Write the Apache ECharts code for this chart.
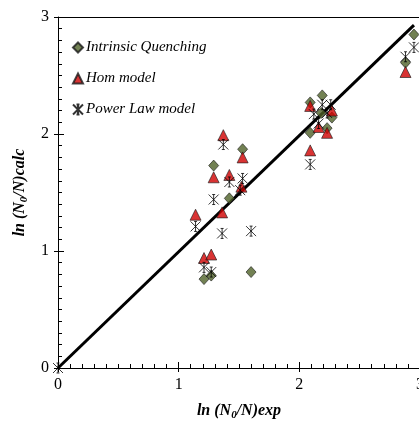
<!DOCTYPE html>
<html>
<head>
<meta charset="utf-8">
<script src="https://cdn.jsdelivr.net/npm/echarts@6/dist/echarts.min.js"></script>
<style>
  html, body { margin: 0; padding: 0; background: #fff; }
  #chart { width: 419px; height: 421px; }
</style>
</head>
<body>
<div id="chart"></div>
<script>
// series values: [ln(N0/N)exp, ln(N0/N)calc]
const intrinsicQuenching = [
  [1.21, 0.76], [1.27, 0.79], [1.60, 0.82], [1.42, 1.45], [1.29, 1.73],
  [1.53, 1.87], [2.09, 2.01], [2.19, 2.33], [2.09, 2.27], [2.18, 2.18],
  [2.27, 2.14], [2.23, 2.05], [2.88, 2.61], [2.95, 2.85]
];
const homModel = [
  [1.14, 1.31], [1.21, 0.94], [1.27, 0.97], [1.36, 1.33], [1.29, 1.63],
  [1.42, 1.65], [1.37, 1.99], [1.53, 1.80], [1.52, 1.55], [2.09, 1.86],
  [2.09, 2.24], [2.16, 2.06], [2.23, 2.01], [2.27, 2.20], [2.88, 2.53]
];
const powerLawModel = [
  [0, 0], [1.14, 1.21], [1.21, 0.86], [1.27, 0.82], [1.36, 1.15], [1.29, 1.44],
  [1.37, 1.91], [1.42, 1.59], [1.51, 1.52], [1.53, 1.62], [1.60, 1.17],
  [2.09, 1.74], [2.12, 2.17], [2.16, 2.09], [2.19, 2.25], [2.26, 2.25],
  [2.23, 2.18], [2.88, 2.66], [2.95, 2.74]
];
const parityLine = [[0, 0], [2.95, 2.93]];
const seriesNames = ['Intrinsic Quenching', 'Hom model', 'Power Law model'];

const serif = '"Liberation Serif", "DejaVu Serif", serif';
const starPath = 'path://M0,0L10,10M10,0L0,10M5,0L5,10M3.5,0L6.5,0M3.5,10L6.5,10';

const axisCommon = {
  type: 'value', min: 0, max: 3, interval: 1,
  axisLine: { lineStyle: { color: '#000', width: 1 } },
  axisTick: { inside: true, length: 6, lineStyle: { color: '#000' } },
  minorTick: { show: true, splitNumber: 10, length: 4, lineStyle: { color: '#000' } },
  splitLine: { show: false },
  axisLabel: { color: '#000', fontFamily: serif, fontSize: 16, margin: 9 }
};
// hidden twin axes only add the outward part of the major ticks
const outerTicks = {
  type: 'value', min: 0, max: 3, interval: 1,
  axisLine: { show: false },
  axisTick: { inside: false, length: 4, lineStyle: { color: '#000' } },
  axisLabel: { show: false },
  splitLine: { show: false }
};
const nameRich = {
  sub: { fontSize: 11, fontFamily: serif, fontWeight: 'bold', fontStyle: 'italic', verticalAlign: 'bottom', lineHeight: 11 }
};
const nameStyle = {
  fontFamily: serif, fontWeight: 'bold', fontStyle: 'italic', fontSize: 16,
  color: '#000', lineHeight: 20, rich: nameRich
};

const chart = echarts.init(document.getElementById('chart'));
chart.setOption({
  animation: false,
  grid: { left: 58, right: -1, top: 17, bottom: 53, outerBoundsMode: 'none' },
  legend: {
    data: seriesNames,
    orient: 'vertical', left: 67, top: 35, itemGap: 16, itemWidth: 10, itemHeight: 10,
    textStyle: { fontFamily: serif, fontStyle: 'italic', fontSize: 15, color: '#000', padding: [0, 0, 0, -2] }
  },
  xAxis: [
    Object.assign({}, axisCommon, {
      name: 'ln (N{sub|0}/N)exp', nameLocation: 'middle', nameGap: 33, nameTextStyle: nameStyle
    }),
    Object.assign({}, outerTicks, { position: 'bottom' }),
    {
      type: 'value', min: 0, max: 3, position: 'top',
      axisLine: { lineStyle: { color: '#000', width: 1 } },
      axisTick: { show: false }, axisLabel: { show: false }, splitLine: { show: false }
    }
  ],
  yAxis: [
    Object.assign({}, axisCommon, {
      name: 'ln (N{sub|0}/N)calc', nameLocation: 'middle', nameGap: 23, nameRotate: 90, nameTextStyle: nameStyle
    }),
    Object.assign({}, outerTicks, { position: 'left' })
  ],
  series: [
    {
      type: 'line', data: parityLine, showSymbol: false, silent: true, z: 1,
      lineStyle: { color: '#000', width: 3 }
    },
    {
      name: seriesNames[0], type: 'scatter', data: intrinsicQuenching, z: 3,
      symbol: 'diamond', symbolSize: [10, 11],
      itemStyle: { color: '#4f6228', borderColor: '#1a1a1a', borderWidth: 0.8 }
    },
    {
      name: seriesNames[1], type: 'scatter', data: homModel, z: 3,
      symbol: 'triangle', symbolSize: [11, 11],
      itemStyle: { color: '#d00000', borderColor: '#1a1a1a', borderWidth: 0.8 }
    },
    {
      name: seriesNames[2], type: 'scatter', data: powerLawModel, z: 4,
      symbol: starPath, symbolSize: [10, 10],
      itemStyle: { color: 'rgba(0,0,0,0)', borderColor: '#000', borderWidth: 1 }
    }
  ]
});
</script>
</body>
</html>
